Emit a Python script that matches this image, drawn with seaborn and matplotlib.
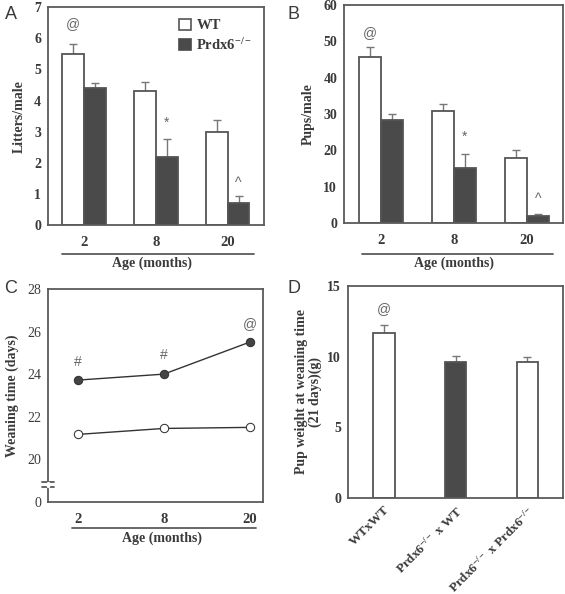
import matplotlib
matplotlib.use("Agg")
import matplotlib.pyplot as plt
import seaborn as sns
import pandas as pd
import numpy as np
from matplotlib.lines import Line2D
from matplotlib.patches import Patch

sns.set_theme(style="white")
plt.rcParams['font.family'] = ['Liberation Serif', 'DejaVu Serif']
plt.rcParams['mathtext.fontset'] = 'custom'
plt.rcParams['mathtext.rm'] = 'Liberation Serif'
plt.rcParams['mathtext.bf'] = 'Liberation Serif:bold'
plt.rcParams['mathtext.it'] = 'Liberation Serif:italic'
plt.rcParams['mathtext.default'] = 'bf'

# ---------------- data ----------------
ages = ["2", "8", "20"]
groups = ["WT", "Prdx6$^{-/-}$"]

litters_wt = [5.5, 4.3, 3.0]
litters_wt_err = [0.3, 0.3, 0.38]
litters_ko = [4.4, 2.2, 0.72]
litters_ko_err = [0.15, 0.58, 0.23]

pups_wt = [45.6, 30.8, 17.8]
pups_wt_err = [2.7, 2.0, 2.4]
pups_ko = [28.3, 15.1, 1.9]
pups_ko_err = [1.6, 3.9, 0.7]

wean_wt = [21.17, 21.45, 21.5]
wean_ko = [23.72, 24.0, 25.5]

cross_labels = ["WTxWT", "Prdx6$^{-/-}$ x WT", "Prdx6$^{-/-}$ x Prdx6$^{-/-}$"]
pup_weight = [11.65, 9.65, 9.65]
pup_weight_err = [0.6, 0.4, 0.3]

# ---------------- style ----------------
DARK = "#4a4a4a"
EDGE = "#555555"
SPINE = "#5a5a5a"
TXT = "#3a3a3a"
ERR = "#777777"
lab_kw = dict(fontsize=10, fontweight="bold", color=TXT)
ann_kw = dict(fontsize=10, color="#666666", family="Liberation Sans", ha="center", va="center")

fig = plt.figure(figsize=(5.65, 5.94), dpi=100)
axA = fig.add_axes([0.085, 0.621, 0.382, 0.367])
axB = fig.add_axes([0.609, 0.6246, 0.388, 0.367])
axC = fig.add_axes([0.085, 0.155, 0.381, 0.3586])
axD = fig.add_axes([0.616, 0.1616, 0.381, 0.357])


def style_box(ax, bold=True):
    for s in ax.spines.values():
        s.set_visible(True)
        s.set_color(SPINE)
        s.set_linewidth(1.3)
    ax.tick_params(axis="y", direction="out", length=3, width=1, color=SPINE, pad=2,
                   labelsize=10, labelcolor=TXT)
    for t in ax.get_yticklabels():
        t.set_fontweight("bold" if bold else "normal")


def grouped_bars(ax, wt, wt_err, ko, ko_err, ymax, yticks):
    df = pd.DataFrame({
        "age": ages * 2,
        "group": [groups[0]] * 3 + [groups[1]] * 3,
        "value": wt + ko,
    })
    sns.barplot(data=df, x="age", y="value", hue="group", order=ages, hue_order=groups,
                palette=["white", DARK], edgecolor=EDGE, linewidth=1.3, width=0.6,
                errorbar=None, ax=ax, legend=False)
    errs = [wt_err, ko_err]
    for cont, e in zip(ax.containers, errs):
        xs = [p.get_x() + p.get_width() / 2 for p in cont.patches]
        ys = [p.get_height() for p in cont.patches]
        ax.errorbar(xs, ys, yerr=[np.zeros(len(e)), e], fmt="none", ecolor=ERR,
                    elinewidth=1, capsize=3, capthick=1, zorder=0.5)
    ax.set_xlim(-0.5, 2.5)
    ax.set_ylim(0, ymax)
    ax.set_yticks(yticks)
    ax.set_xlabel("")
    ax.tick_params(axis="x", length=0, pad=8)
    for t in ax.get_xticklabels():
        t.set_fontweight("bold"); t.set_fontsize(10.5); t.set_color(TXT)
    style_box(ax)


def age_axis(ax, x0, x1, yline, ylab, xlab):
    ax.add_line(Line2D([x0, x1], [yline, yline], transform=ax.transAxes, color=SPINE,
                       lw=1.3, clip_on=False))
    ax.text(xlab, ylab, "Age (months)", transform=ax.transAxes, ha="center", va="center", **lab_kw)


# ---------------- A ----------------
grouped_bars(axA, litters_wt, litters_wt_err, litters_ko, litters_ko_err, 7, range(0, 8))
axA.set_ylabel("Litters/male", labelpad=6, **lab_kw)
age_axis(axA, 0.065, 0.954, -0.133, -0.176, 0.48)
axA.text(0 - 0.15, 6.45, "@", **ann_kw)
axA.text(1 + 0.15, 3.3, "*", **ann_kw)
axA.text(2 + 0.15, 1.35, "^", **ann_kw)
handles = [Patch(facecolor="white", edgecolor=EDGE, lw=1.2, label=groups[0]),
           Patch(facecolor=DARK, edgecolor=DARK, lw=1.2, label=groups[1])]
leg = axA.legend(handles=handles, loc="upper right", frameon=False, handlelength=0.8,
                 handleheight=0.8, handletextpad=0.4, labelspacing=0.3,
                 bbox_to_anchor=(1.0, 1.0), borderaxespad=0.4,
                 prop=dict(family="Liberation Serif", weight="bold", size=10.5))
for t in leg.get_texts():
    t.set_color(TXT)
fig.text(0.008, 0.976, "A", fontsize=13, family="Liberation Sans", color=TXT, va="center")

# ---------------- B ----------------
grouped_bars(axB, pups_wt, pups_wt_err, pups_ko, pups_ko_err, 60, range(0, 61, 10))
axB.set_ylabel("Pups/male", labelpad=6, **lab_kw)
age_axis(axB, 0.082, 0.954, -0.142, -0.185, 0.50)
axB.text(0 - 0.15, 52.3, "@", **ann_kw)
axB.text(1 + 0.15, 23.7, "*", **ann_kw)
axB.text(2 + 0.15, 6.7, "^", **ann_kw)
fig.text(0.508, 0.976, "B", fontsize=13, family="Liberation Sans", color=TXT, va="center")

# ---------------- C ----------------
dfc_wt = pd.DataFrame({"age": ages, "value": wean_wt})
dfc_ko = pd.DataFrame({"age": ages, "value": wean_ko})
sns.pointplot(data=dfc_ko, x="age", y="value", order=ages, color="#333333", markers="o",
              linewidth=1, markersize=6, ax=axC, errorbar=None, markeredgecolor="#333333",
              markerfacecolor="#444444")
sns.pointplot(data=dfc_wt, x="age", y="value", order=ages, color="#333333", markers="o",
              linewidth=1, markersize=6, ax=axC, errorbar=None, markeredgecolor="#333333",
              markerfacecolor="white")
axC.set_xlim(-0.35, 2.16)
axC.set_ylim(18, 28)
axC.set_yticks([18, 20, 22, 24, 26, 28])
axC.set_yticklabels(["0", "20", "22", "24", "26", "28"])
axC.set_xlabel("")
axC.set_ylabel("Weaning time (days)", labelpad=6, **lab_kw)
axC.tick_params(axis="x", length=0, pad=8)
for t in axC.get_xticklabels():
    t.set_fontweight("bold"); t.set_fontsize(10.5); t.set_color(TXT)
style_box(axC, bold=False)
# axis break marks
for yb in (18.72, 18.95):
    axC.add_line(Line2D([-0.03, 0.03], [yb, yb], transform=axC.get_yaxis_transform(),
                        color=SPINE, lw=1.3, clip_on=False))
axC.add_line(Line2D([0, 0], [18.76, 18.91], transform=axC.get_yaxis_transform(),
                    color="white", lw=2.5, clip_on=False, zorder=5))
age_axis(axC, 0.112, 0.967, -0.122, -0.169, 0.53)
axC.text(0, 24.55, "#", **ann_kw)
axC.text(1, 24.9, "#", **ann_kw)
axC.text(2, 26.36, "@", **ann_kw)
fig.text(0.008, 0.515, "C", fontsize=13, family="Liberation Sans", color=TXT, va="center")

# ---------------- D ----------------
dfd = pd.DataFrame({"cross": cross_labels, "value": pup_weight})
sns.barplot(data=dfd, x="cross", y="value", order=cross_labels, hue="cross",
            palette=["white", DARK, "white"], edgecolor=EDGE, linewidth=1.3, width=0.3,
            errorbar=None, ax=axD, legend=False)
xs = [p.get_x() + p.get_width() / 2 for p in axD.patches]
ys = [p.get_height() for p in axD.patches]
axD.errorbar(xs, ys, yerr=[np.zeros(3), pup_weight_err], fmt="none", ecolor=ERR,
             elinewidth=1, capsize=3, capthick=1, zorder=0.5)
axD.set_xlim(-0.5, 2.5)
axD.set_ylim(0, 15)
axD.set_yticks([0, 5, 10, 15])
axD.set_xlabel("")
axD.set_ylabel("Pup weight at weaning time\n(21 days)(g)", labelpad=4, linespacing=1.05, **lab_kw)
axD.tick_params(axis="x", length=0, pad=4)
axD.set_xticks(range(3))
axD.set_xticklabels(cross_labels, rotation=45, ha="right", rotation_mode="anchor",
                    fontsize=9.5, fontweight="bold", color=TXT)
style_box(axD)
axD.text(0, 13.4, "@", **ann_kw)
fig.text(0.508, 0.515, "D", fontsize=13, family="Liberation Sans", color=TXT, va="center")

fig.savefig("out.png", dpi=100, facecolor="white")
